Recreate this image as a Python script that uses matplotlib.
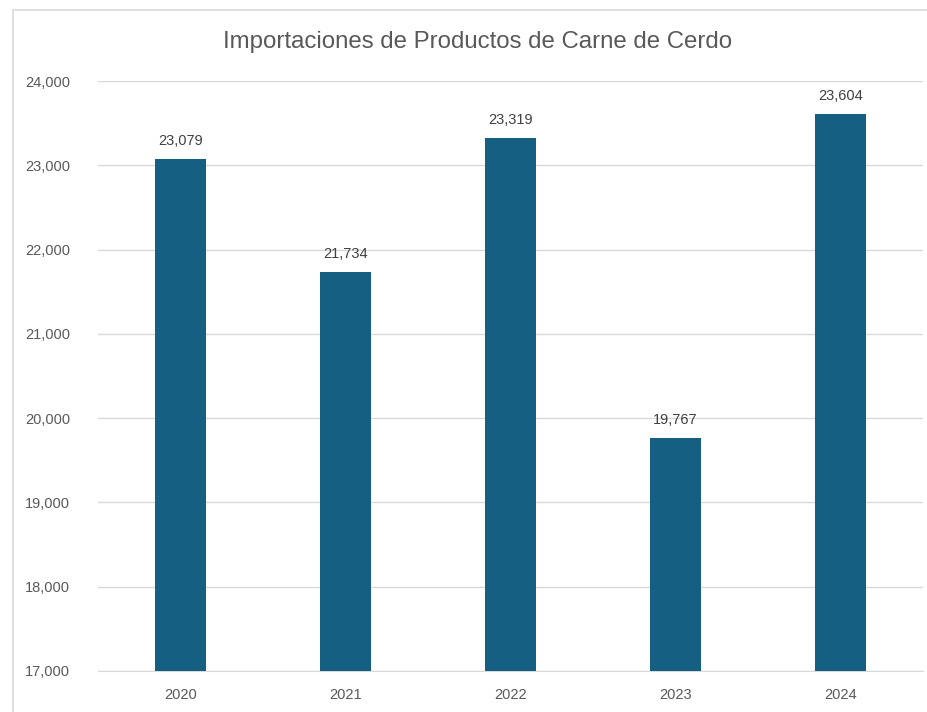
import matplotlib.pyplot as plt
from matplotlib.patches import Rectangle
from matplotlib.ticker import FuncFormatter

# data
years = ['2020', '2021', '2022', '2023', '2024']
values = [23079, 21734, 23319, 19767, 23604]

bar_color = '#156082'
grid_color = '#d9d9d9'

plt.rcParams['font.family'] = ['Liberation Sans', 'DejaVu Sans']

fig = plt.figure(figsize=(9.28, 7.12), dpi=100)
ax = fig.add_axes([98/928, 1-671/712, 825/928, 590/712])

# chart border (cropped at right/bottom like the original)
fig.patches.append(Rectangle((13/928, -0.1), 2, 1 - 10/712 + 0.1,
                             transform=fig.transFigure, fill=False,
                             edgecolor='#d9d9d9', linewidth=1.2))

x = range(len(years))
bars = ax.bar(x, values, width=0.315, color=bar_color, zorder=3)

for b, v in zip(bars, values):
    ax.annotate(f'{v:,}', (b.get_x() + b.get_width()/2, v),
                xytext=(0, 8), textcoords='offset points',
                ha='center', va='bottom', fontsize=10.5, color='#404040')

ax.set_xlim(-0.5, 4.5)
ax.set_ylim(17000, 24000)
ax.set_yticks(range(17000, 24001, 1000))
ax.yaxis.set_major_formatter(FuncFormatter(lambda v, p: f'{int(v):,}'))
ax.set_xticks(list(x))
ax.set_xticklabels(years)

ax.grid(axis='y', color=grid_color, linewidth=1, zorder=0)
for s in ['top', 'right', 'left']:
    ax.spines[s].set_visible(False)
ax.spines['bottom'].set_color(grid_color)
ax.tick_params(axis='both', length=0, labelsize=10.5, colors='#595959')
ax.tick_params(axis='y', pad=20)
ax.tick_params(axis='x', pad=12)

fig.text(478/928, 1-42/712, 'Importaciones de Productos de Carne de Cerdo',
         ha='center', va='center', fontsize=17.3, color='#595959')

fig.savefig('out.png', dpi=100)
